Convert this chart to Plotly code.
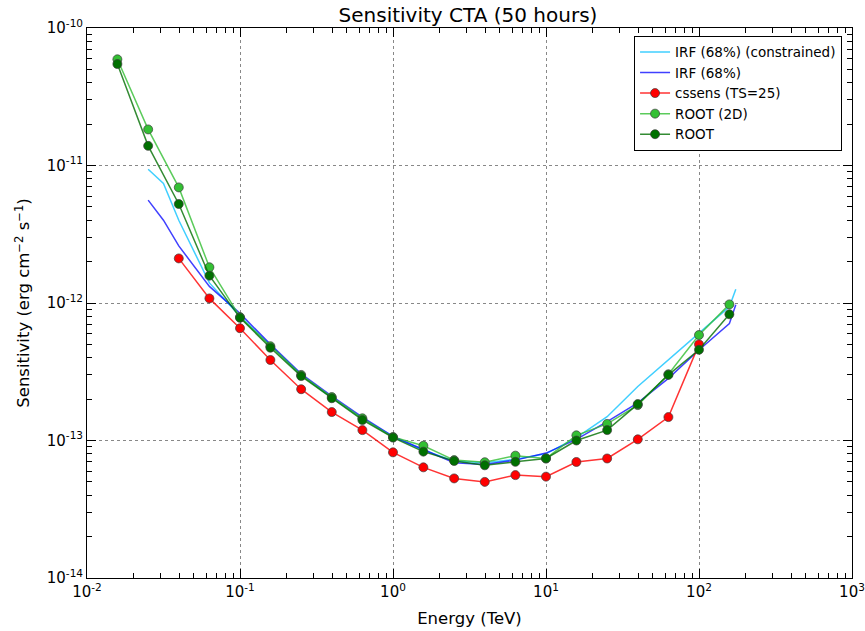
import plotly.graph_objects as go

# Energies (TeV)
energy_pts = [0.0158, 0.0251, 0.0398, 0.0631, 0.1, 0.158, 0.251, 0.398, 0.631, 1.0,
              1.58, 2.51, 3.98, 6.31, 10.0, 15.8, 25.1, 39.8, 63.1, 100.0, 158.0]

root = [5.47e-11, 1.39e-11, 5.25e-12, 1.58e-12, 7.8e-13, 4.73e-13, 2.94e-13, 2.03e-13,
        1.41e-13, 1.05e-13, 8.3e-14, 7.1e-14, 6.6e-14, 7.0e-14, 7.4e-14, 1.0e-13,
        1.19e-13, 1.84e-13, 3.0e-13, 4.57e-13, 8.28e-13]

root2d = [5.92e-11, 1.83e-11, 6.93e-12, 1.82e-12, 7.9e-13, 4.85e-13, 3.0e-13, 2.07e-13,
          1.45e-13, 1.06e-13, 9.16e-14, 7.2e-14, 6.95e-14, 7.76e-14, 7.41e-14, 1.09e-13,
          1.32e-13, 1.81e-13, 3.03e-13, 5.85e-13, 9.77e-13]

energy_cssens = [0.0398, 0.0631, 0.1, 0.158, 0.251, 0.398, 0.631, 1.0, 1.58, 2.51,
                 3.98, 6.31, 10.0, 15.8, 25.1, 39.8, 63.1, 100.0]
cssens = [2.11e-12, 1.08e-12, 6.55e-13, 3.85e-13, 2.36e-13, 1.61e-13, 1.19e-13, 8.2e-14,
          6.38e-14, 5.3e-14, 5.0e-14, 5.6e-14, 5.46e-14, 6.98e-14, 7.4e-14, 1.02e-13,
          1.48e-13, 5.0e-13]

energy_irf = [0.0251, 0.0316, 0.0398, 0.0631, 0.1, 0.158, 0.251, 0.398, 0.631, 1.0,
              1.58, 2.51, 3.98, 6.31, 10.0, 15.8, 25.1, 39.8, 63.1, 100.0, 158.0, 174.0]
irf_constrained = [9.4e-12, 7.4e-12, 4.0e-12, 1.4e-12, 8.0e-13, 4.9e-13, 3.0e-13, 2.05e-13,
                   1.45e-13, 1.07e-13, 8.5e-14, 7.1e-14, 6.9e-14, 7.3e-14, 8.0e-14, 1.05e-13,
                   1.49e-13, 2.47e-13, 3.85e-13, 6.0e-13, 9.4e-13, 1.26e-12]
irf = [5.6e-12, 4.0e-12, 2.6e-12, 1.32e-12, 8.4e-13, 5.0e-13, 3.05e-13, 2.1e-13,
       1.48e-13, 1.07e-13, 8.6e-14, 6.9e-14, 6.7e-14, 7.2e-14, 8.1e-14, 1.02e-13,
       1.37e-13, 1.88e-13, 2.83e-13, 4.55e-13, 7.1e-13, 9.7e-13]

x_tickvals = [1e-2, 1e-1, 1, 10, 100, 1000]
x_ticktext = ["10<sup>-2</sup>", "10<sup>-1</sup>", "10<sup>0</sup>", "10<sup>1</sup>",
              "10<sup>2</sup>", "10<sup>3</sup>"]
y_tickvals = [1e-14, 1e-13, 1e-12, 1e-11, 1e-10]
y_ticktext = ["10<sup>-14</sup>", "10<sup>-13</sup>", "10<sup>-12</sup>",
              "10<sup>-11</sup>", "10<sup>-10</sup>"]

x_minor = [m * d for d in x_tickvals[:-1] for m in range(2, 10)]
y_minor = [m * d for d in y_tickvals[:-1] for m in range(2, 10)]

fig = go.Figure()
fig.add_trace(go.Scatter(x=energy_irf, y=irf_constrained, mode="lines",
                         name="IRF (68%) (constrained)",
                         line=dict(color="rgba(0,191,255,0.75)", width=1.5)))
fig.add_trace(go.Scatter(x=energy_irf, y=irf, mode="lines", name="IRF (68%)",
                         line=dict(color="rgba(0,0,255,0.75)", width=1.5)))
mk_line = dict(color="rgba(60,60,60,0.7)", width=1)
fig.add_trace(go.Scatter(x=energy_cssens, y=cssens, mode="lines+markers",
                         name="cssens (TS=25)",
                         line=dict(color="rgba(255,0,0,0.8)", width=1.5),
                         marker=dict(color="#FF0000", size=9, line=mk_line)))
fig.add_trace(go.Scatter(x=energy_pts, y=root2d, mode="lines+markers", name="ROOT (2D)",
                         line=dict(color="rgba(50,190,50,0.8)", width=1.5),
                         marker=dict(color="#33C033", size=9, line=mk_line)))
fig.add_trace(go.Scatter(x=energy_pts, y=root, mode="lines+markers", name="ROOT",
                         line=dict(color="rgba(0,110,0,0.8)", width=1.5),
                         marker=dict(color="#007000", size=9, line=mk_line)))
# helper trace binding the minor-tick overlay axes
fig.add_trace(go.Scatter(x=energy_pts[:1], y=root[:1], xaxis="x2", yaxis="y2",
                         mode="markers", marker=dict(opacity=0), showlegend=False,
                         hoverinfo="skip"))

axis_common = dict(
    type="log", showline=True, linecolor="black", linewidth=1, mirror="allticks",
    ticks="inside", ticklen=9, tickwidth=1.3, tickcolor="black", automargin=False,
    showgrid=True, gridcolor="#888888", griddash="dot", gridwidth=1,
    zeroline=False, tickfont=dict(size=15, color="black"), layer="above traces",
)
minor_common = dict(
    type="log", showline=True, linecolor="black", linewidth=1, showgrid=False,
    zeroline=False, showticklabels=False, ticks="inside", ticklen=5, tickwidth=1.3,
    tickcolor="black", mirror="allticks", automargin=False, layer="above traces",
)

fig.update_layout(
    width=865, height=631,
    margin=dict(l=87, r=13, t=28, b=53),
    paper_bgcolor="white", plot_bgcolor="white",
    font=dict(family="DejaVu Sans", color="black"),
    title=dict(text="Sensitivity CTA (50 hours)", x=0.541, xanchor="center",
               y=0.976, yanchor="middle", font=dict(size=20, color="black")),
    xaxis=dict(axis_common, range=[-2, 3], tickvals=x_tickvals, ticktext=x_ticktext,
               title=dict(text="Energy (TeV)", font=dict(size=16.5), standoff=12)),
    yaxis=dict(axis_common, range=[-14, -10], tickvals=y_tickvals, ticktext=y_ticktext,
               title=dict(text="Sensitivity (erg cm<sup>−2</sup> s<sup>−1</sup>)",
                          font=dict(size=16.5), standoff=12)),
    xaxis2=dict(minor_common, overlaying="x", side="bottom", range=[-2, 3],
                tickvals=x_minor, anchor="y2"),
    yaxis2=dict(minor_common, overlaying="y", side="left", range=[-14, -10],
                tickvals=y_minor, anchor="x2"),
    legend=dict(x=0.987, y=0.986, xanchor="right", yanchor="top",
                bordercolor="black", borderwidth=1, bgcolor="white",
                font=dict(size=13.5), tracegroupgap=0, itemwidth=30),
    showlegend=True,
)

fig.write_html("out.html", config={"displayModeBar": False},
               post_script="document.body.style.margin='0';document.body.style.overflow='hidden';")
